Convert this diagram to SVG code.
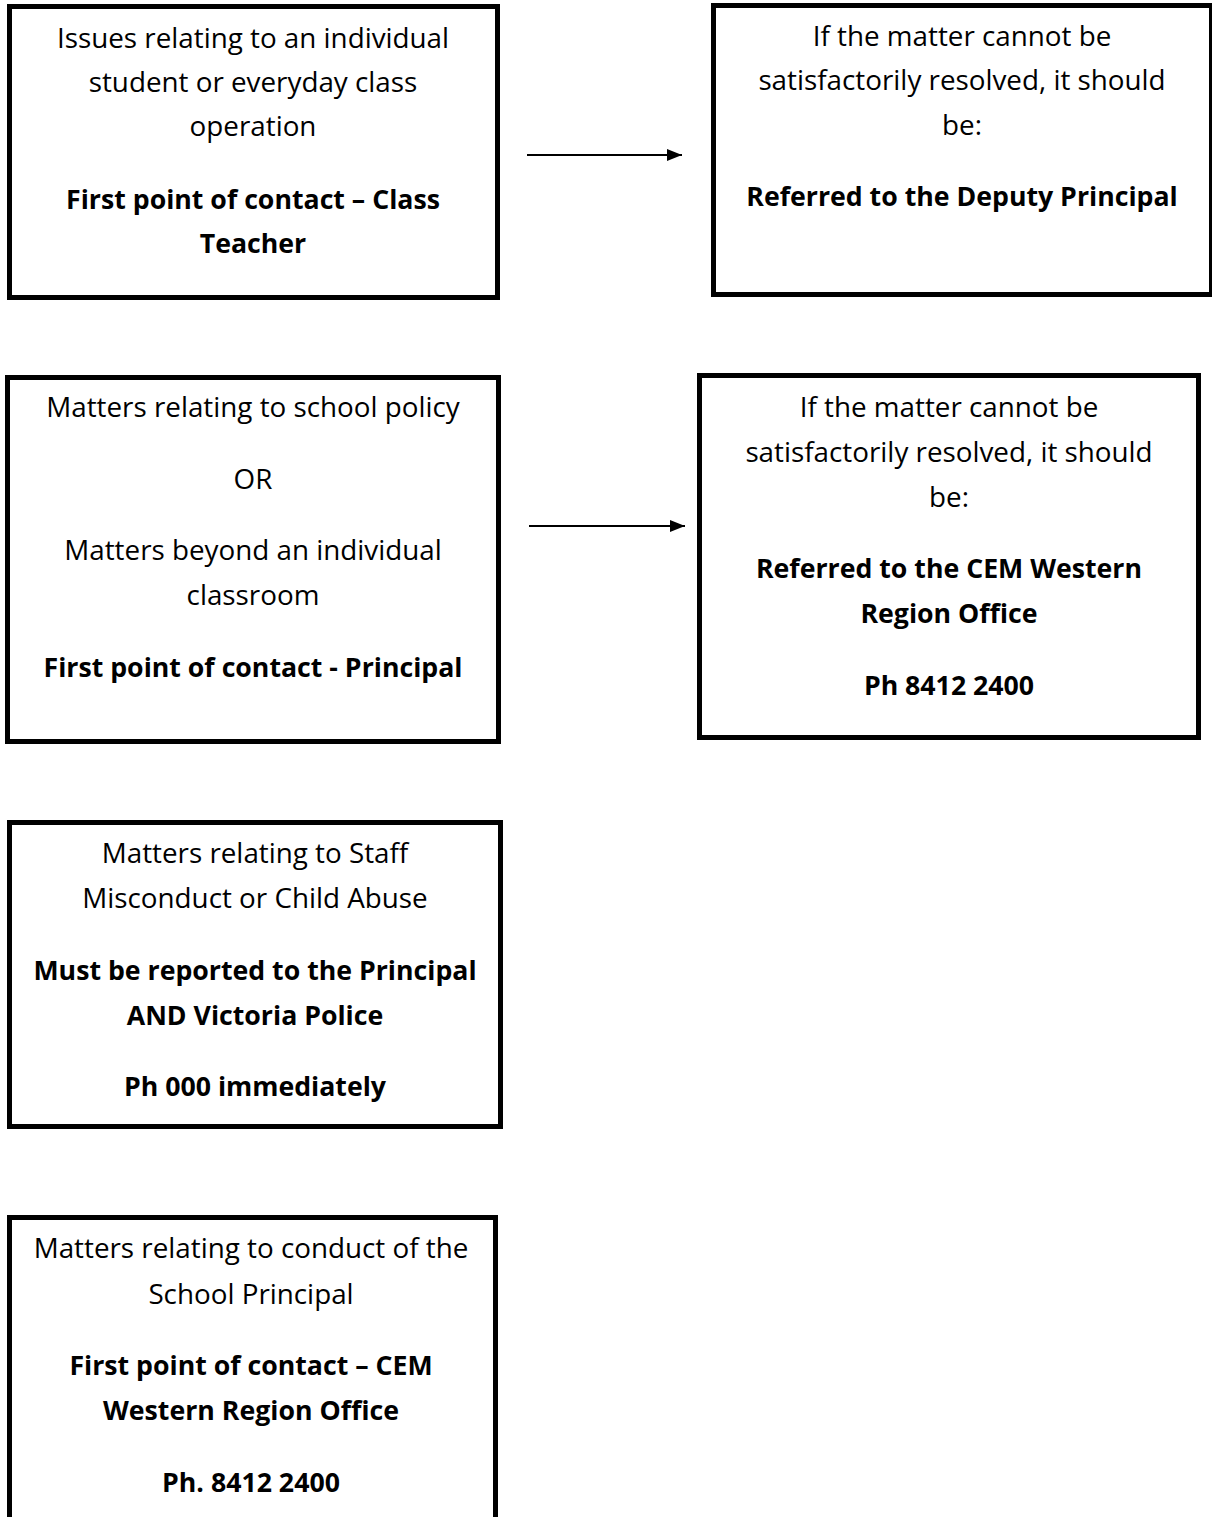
<svg xmlns="http://www.w3.org/2000/svg" width="1212" height="1517" viewBox="0 0 1212 1517">
<style>
.box{fill:#fff;stroke:#000;stroke-width:5}
text{font-family:"Open Sans",Lato,sans-serif;font-size:27.8px;fill:#000;text-anchor:middle}
.b{font-weight:bold;font-size:26.7px}
.conn{stroke:#000;stroke-width:2;fill:none}
</style>
<defs>
<marker id="ah" markerWidth="15" markerHeight="12" refX="15" refY="6" orient="auto" markerUnits="userSpaceOnUse">
<path d="M0,0 L15,6 L0,12 Z" fill="#000"/>
</marker>
</defs>
<rect width="1212" height="1517" fill="#fff"/>
<g id="connectors">
<line class="conn" x1="527" y1="155" x2="682" y2="155" marker-end="url(#ah)"/>
<line class="conn" x1="529" y1="526" x2="685" y2="526" marker-end="url(#ah)"/>
</g>
<g id="n1">
<rect class="box" x="9.5" y="6.5" width="488" height="291"/>
<text x="253" y="48">Issues relating to an individual</text>
<text x="253" y="92">student or everyday class</text>
<text x="253" y="136">operation</text>
<text class="b" x="253" y="209">First point of contact – Class</text>
<text class="b" x="253" y="253">Teacher</text>
</g>
<g id="n2">
<rect class="box" x="713.5" y="5.5" width="498" height="289"/>
<text x="962" y="46">If the matter cannot be</text>
<text x="962" y="90">satisfactorily resolved, it should</text>
<text x="962" y="135">be:</text>
<text class="b" x="962" y="206">Referred to the Deputy Principal</text>
</g>
<g id="n3">
<rect class="box" x="7.5" y="377.5" width="491" height="364"/>
<text x="253" y="417">Matters relating to school policy</text>
<text x="253" y="489">OR</text>
<text x="253" y="560">Matters beyond an individual</text>
<text x="253" y="605">classroom</text>
<text class="b" x="253" y="677">First point of contact - Principal</text>
</g>
<g id="n4">
<rect class="box" x="699.5" y="375.5" width="499" height="362"/>
<text x="949" y="417">If the matter cannot be</text>
<text x="949" y="462">satisfactorily resolved, it should</text>
<text x="949" y="507">be:</text>
<text class="b" x="949" y="578">Referred to the CEM Western</text>
<text class="b" x="949" y="623">Region Office</text>
<text class="b" x="949" y="695">Ph 8412 2400</text>
</g>
<g id="n5">
<rect class="box" x="9.5" y="822.5" width="491" height="304"/>
<text x="255" y="863">Matters relating to Staff</text>
<text x="255" y="908">Misconduct or Child Abuse</text>
<text class="b" x="255" y="980">Must be reported to the Principal</text>
<text class="b" x="255" y="1025">AND Victoria Police</text>
<text class="b" x="255" y="1096">Ph 000 immediately</text>
</g>
<g id="n6">
<rect class="box" x="9.5" y="1217.5" width="486" height="320"/>
<text x="251" y="1258">Matters relating to conduct of the</text>
<text x="251" y="1304">School Principal</text>
<text class="b" x="251" y="1375">First point of contact – CEM</text>
<text class="b" x="251" y="1420">Western Region Office</text>
<text class="b" x="251" y="1492">Ph. 8412 2400</text>
</g>
</svg>
